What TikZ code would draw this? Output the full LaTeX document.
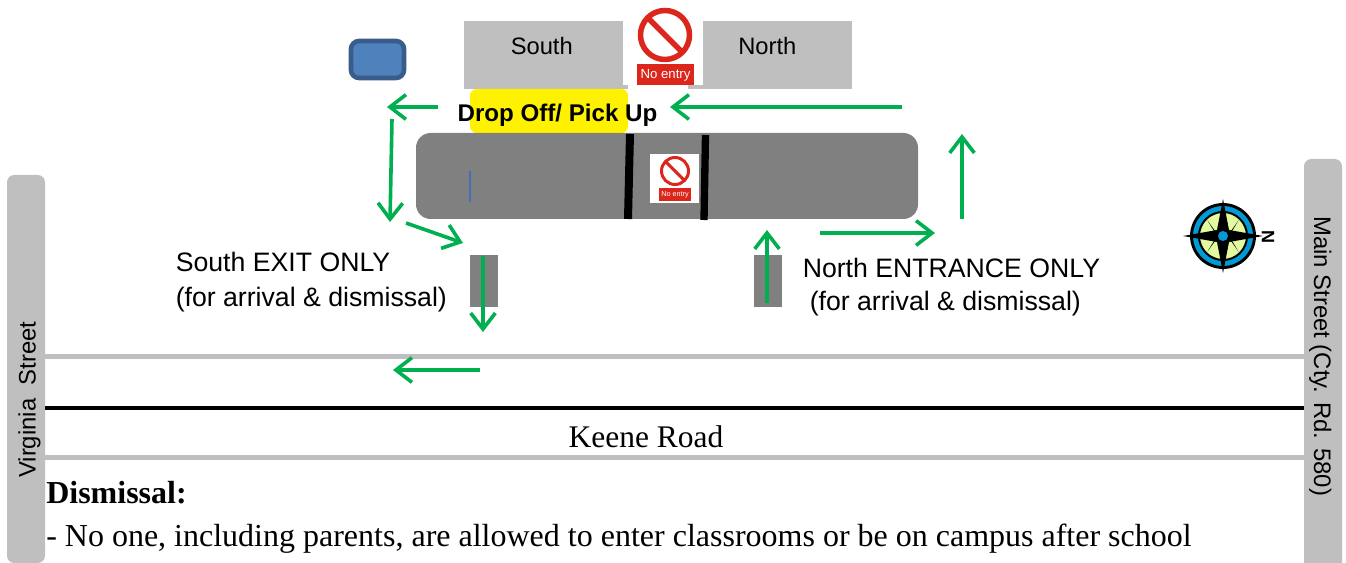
\documentclass[tikz,border=0pt]{standalone}
\usepackage{fontspec}
\setmainfont{Liberation Serif}
\setsansfont{Liberation Sans}
\usetikzlibrary{arrows.meta}
\definecolor{road}{RGB}{191,191,191}
\definecolor{bld}{RGB}{128,128,128}
\definecolor{grn}{RGB}{0,176,80}
\definecolor{sred}{RGB}{220,38,28}
\definecolor{cblue}{RGB}{0,155,215}
\definecolor{cyel}{RGB}{228,250,160}
\definecolor{bborder}{RGB}{56,93,138}
\definecolor{bfill}{RGB}{79,129,189}
\definecolor{bline}{RGB}{70,110,180}
\tikzset{
 x=0.75pt,y=-0.75pt,
 garrow/.style={draw=grn,line width=2.7pt,-{Straight Barb[length=12pt,width=18.5pt,line width=2.7pt]}},
 lab/.style={font=\sffamily\fontsize{20}{22}\selectfont,inner sep=0,anchor=base west,text=black},
 rlab/.style={font=\sffamily\fontsize{17.9}{20}\selectfont,inner sep=0,anchor=base west,text=black},
 box/.style={fill=#1,draw=none},
 ser/.style={inner sep=0,anchor=base west,text=black},
}
\newcommand{\noentry}[4]{% cx, cy of circle, radius, stroke(px)
 \draw[sred,line width=#4*0.75pt] (#1,#2) circle[radius=#3];
 \draw[sred,line width=#4*0.75pt] ({#1-0.707*#3},{#2-0.707*#3}) -- ({#1+0.707*#3},{#2+0.707*#3});
}
\begin{document}
\begin{tikzpicture}
\useasboundingbox (0,0) rectangle (1346,563);
\fill[white] (0,0) rectangle (1346,563);
% roads
\begin{scope}
\clip (0,0) rectangle (1346,563);
\fill[road,rounded corners=5.5pt] (7,175) rectangle (45,563);
\fill[road,rounded corners=5.5pt] (1304,159) rectangle (1342,580);
\end{scope}
\fill[road] (45,353.5) rectangle (1304,358.5);
\fill[road] (45,454.5) rectangle (1304,459.5);
\fill[black] (45,406) rectangle (1304,410);
% doors
\fill[box=road] (464,21) rectangle (628,89);
\fill[box=road] (688,21) rectangle (852,89);
\fill[white] (623,0) rectangle (703,85);
\node[rlab,font=\sffamily\fontsize{17.8}{20}\selectfont] (south) at (510.5,54.5) {South};
\node[rlab,font=\sffamily\fontsize{17.8}{20}\selectfont] (north) at (738,54.5) {North};
% big sign
\noentry{665}{35}{24.5}{5.5}
\fill[sred] (637,64) rectangle (694,85);
\node[font=\sffamily\fontsize{9.9}{10}\selectfont,text=white,inner sep=0] (ne1) at (665.5,75.5) {No entry};
% blue rect
\draw[draw=bborder,fill=bfill,line width=3.4pt,rounded corners=6pt] (351,41) rectangle (404,78);
% yellow
\fill[yellow,rounded corners=5pt] (470,89) rectangle (628,133);
% building
\fill[bld,rounded corners=11pt] (416,133) rectangle (918,219);
\draw[black,line width=6pt] (630,134) -- (628,219);
\draw[black,line width=5.5pt] (705.5,135) -- (704,220);
\draw[bline,line width=0.8pt] (470,171) -- (470,202);
\fill[white] (650,154) rectangle (699,203);
\noentry{675}{171}{13.5}{3}
\fill[sred] (659,188) rectangle (691,201);
\node[font=\sffamily\fontsize{5.4}{6}\selectfont,text=white,inner sep=0] (ne2) at (675,195) {No entry};
\node[font=\sffamily\bfseries\fontsize{18.1}{20}\selectfont,inner sep=0,anchor=base] (drop) at (557.5,122) {Drop Off/ Pick Up};
% entrances
\fill[box=bld] (470,255) rectangle (498,307);
\fill[box=bld] (754,255) rectangle (782,307);
% arrows
\coordinate (a1) at (438,107); \coordinate (a2) at (387,107);
\coordinate (b1) at (392,119); \coordinate (b2) at (390,222);
\coordinate (c1) at (406,223); \coordinate (c2) at (463,243);
\coordinate (d1) at (483,256); \coordinate (d2) at (483,332);
\coordinate (e1) at (480,370); \coordinate (e2) at (393,370);
\coordinate (f1) at (902,107); \coordinate (f2) at (670,107);
\coordinate (g1) at (962,219); \coordinate (g2) at (962,134);
\coordinate (h1) at (820,233); \coordinate (h2) at (935,233);
\coordinate (i1) at (767,303); \coordinate (i2) at (767,230);
\foreach \s/\t in {a1/a2,b1/b2,c1/c2,d1/d2,e1/e2,f1/f2,g1/g2,h1/h2,i1/i2}
 \draw[garrow] (\s) -- (\t);
% labels
\node[lab] (sx) at (175.5,271) {South EXIT ONLY};
\node[lab] (sx2) at (175.5,306.5) {(for arrival \& dismissal)};
\node[lab] (nx) at (802.5,277.5) {North ENTRANCE ONLY};
\node[lab] (nx2) at (809.5,310) {(for arrival \& dismissal)};
\node[rlab,rotate=90] (vs) at (35.5,478) {Virginia\ \ Street};
\node[rlab,rotate=-90] (ms) at (1314,216) {Main Street (Cty. Rd. 580)};
\node[ser,font=\fontsize{23.6}{26}\selectfont,anchor=base] (keene) at (646,447) {Keene Road};
\node[ser,font=\bfseries\fontsize{24}{26}\selectfont] (dis) at (46,503) {Dismissal:};
\node[ser,font=\fontsize{24}{26}\selectfont] (rule) at (46,546) {- No one, including parents, are allowed to enter classrooms or be on campus after school};
% compass
\begin{scope}[shift={(1223,236)}]
 \draw[black,line width=2.2pt,fill=cblue] (0,0) circle[radius=31.5];
 \draw[black,line width=1.5pt,fill=cyel] (0,0) circle[radius=24];
 \fill[black] (45:22) -- (6,0) -- (-45:22) -- (0,6) -- (-135:22) -- (-6,0) -- (135:22) -- (0,-6) -- cycle;
 \fill[black] (40,0) -- (6,6) -- (0,37) -- (-6,6) -- (-40,0) -- (-6,-6) -- (0,-37) -- (6,-6) -- cycle;
 \fill[cblue] (0,0) circle[radius=5];
\end{scope}
\node[font=\sffamily\bfseries\fontsize{13.5}{14}\selectfont,rotate=-90,inner sep=0] (nn) at (1268,236.5) {N};
\end{tikzpicture}
\end{document}
